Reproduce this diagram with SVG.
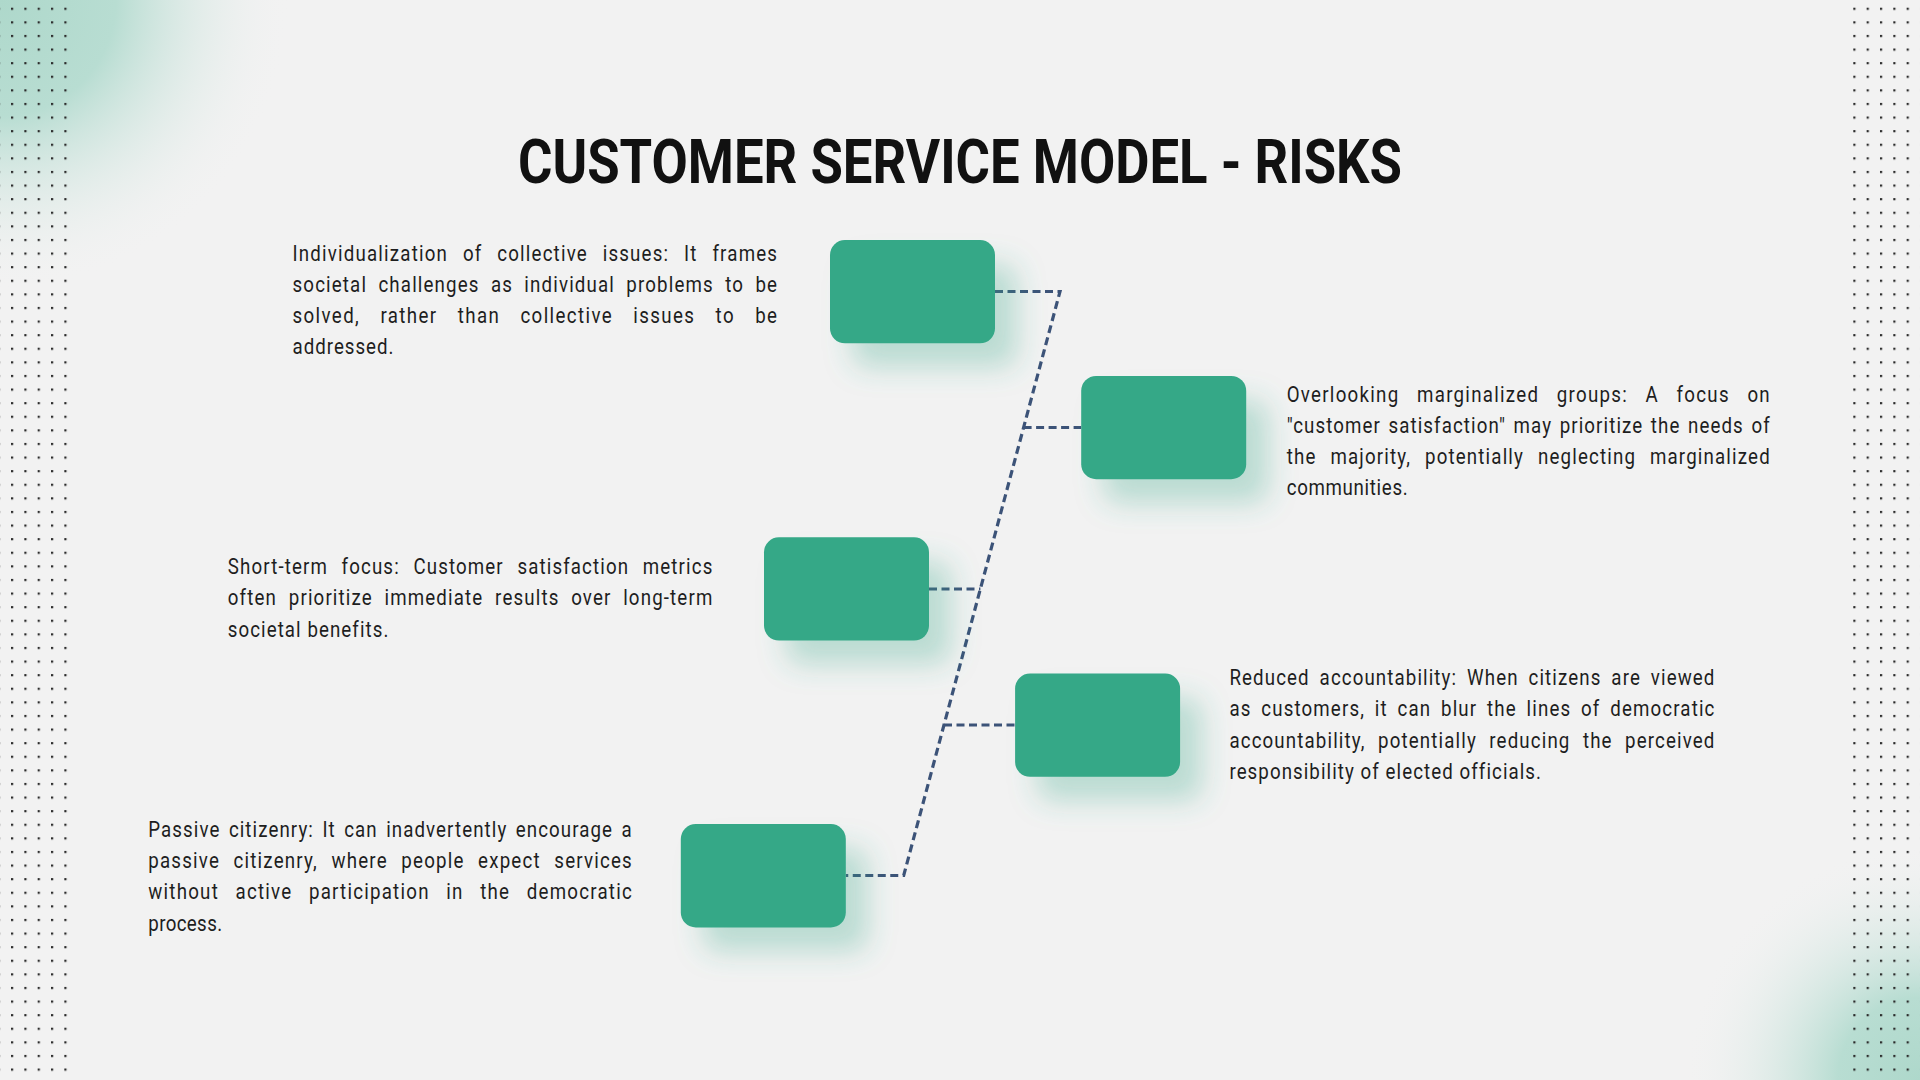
<svg xmlns="http://www.w3.org/2000/svg" width="1920" height="1080" viewBox="0 0 1920 1080">
<defs>
<style>
.body{font-family:Roboto,"Liberation Sans",sans-serif;font-size:22px;letter-spacing:1.2px;fill:#1e1e1e;}
.title{font-family:Roboto,"Liberation Sans",sans-serif;font-size:62px;font-weight:700;fill:#111111;}
.box{fill:#34a887;}
.conn{fill:none;stroke:#3c5378;stroke-width:3.2;stroke-dasharray:8 4.5;}
</style>
<radialGradient id="gTL" cx="0" cy="0" r="290" gradientUnits="userSpaceOnUse">
<stop offset="0" stop-color="#aed8cb"/>
<stop offset="0.4" stop-color="#b8ddd2"/>
<stop offset="1" stop-color="#f2f2f2" stop-opacity="0"/>
</radialGradient>
<radialGradient id="gBR" cx="1920" cy="1080" r="235" gradientUnits="userSpaceOnUse">
<stop offset="0" stop-color="#aed8cb"/>
<stop offset="0.35" stop-color="#b8ddd2"/>
<stop offset="1" stop-color="#f2f2f2" stop-opacity="0"/>
</radialGradient>
<pattern id="dotsL" x="11" y="7.7" width="13.333" height="13.6" patternUnits="userSpaceOnUse">
<rect x="0" y="0" width="2.2" height="2.2" fill="#2b2b2b"/>
</pattern>
<pattern id="dotsR" x="1853.3" y="7.7" width="13.333" height="13.6" patternUnits="userSpaceOnUse">
<rect x="0" y="0" width="2.2" height="2.2" fill="#2b2b2b"/>
</pattern>
<filter id="sh" x="-40%" y="-40%" width="200%" height="220%">
<feDropShadow dx="22" dy="24" stdDeviation="14" flood-color="#34a887" flood-opacity="0.3"/>
</filter>
</defs>

<rect x="0" y="0" width="1920" height="1080" fill="#f2f2f2"/>
<rect x="0" y="0" width="320" height="320" fill="url(#gTL)"/>
<rect x="1600" y="760" width="320" height="320" fill="url(#gBR)"/>
<rect x="0" y="0" width="72" height="1080" fill="url(#dotsL)"/>
<rect x="1850" y="0" width="70" height="1080" fill="url(#dotsR)"/>

<text class="title" x="518" y="182.5" textLength="884" lengthAdjust="spacingAndGlyphs">CUSTOMER SERVICE MODEL - RISKS</text>

<g id="connectors">
<path class="conn" d="M995 291.5 H1060 L903.7 875.5 H845.8"/>
<path class="conn" d="M1023.6 427.5 H1081.2"/>
<path class="conn" d="M929 589 H980.4"/>
<path class="conn" d="M944 725 H1015.1"/>
</g>

<g id="node1">
<rect class="box" x="830" y="240" width="165" height="103.3" rx="15" filter="url(#sh)"/>
<text class="body" transform="translate(292.5 260.5) scale(0.85 1)" word-spacing="10.5" textLength="571.2" lengthAdjust="spacing">Individualization of collective issues: It frames</text>
<text class="body" transform="translate(292.5 291.8) scale(0.85 1)" word-spacing="6.5" textLength="571.2" lengthAdjust="spacing">societal challenges as individual problems to be</text>
<text class="body" transform="translate(292.5 323.1) scale(0.85 1)" word-spacing="16.7" textLength="571.2" lengthAdjust="spacing">solved, rather than collective issues to be</text>
<text class="body" transform="translate(292.5 354.4) scale(0.85 1)" textLength="120" lengthAdjust="spacing">addressed.</text>
</g>

<g id="node2">
<rect class="box" x="1081.2" y="375.9" width="165" height="103.3" rx="15" filter="url(#sh)"/>
<text class="body" transform="translate(1286.7 401.5) scale(0.85 1)" word-spacing="13.7" textLength="569.4" lengthAdjust="spacing">Overlooking marginalized groups: A focus on</text>
<text class="body" transform="translate(1286.7 432.8) scale(0.85 1)" word-spacing="2.2" textLength="569.4" lengthAdjust="spacing">"customer satisfaction" may prioritize the needs of</text>
<text class="body" transform="translate(1286.7 464.1) scale(0.85 1)" word-spacing="9.5" textLength="569.4" lengthAdjust="spacing">the majority, potentially neglecting marginalized</text>
<text class="body" transform="translate(1286.7 495.4) scale(0.85 1)" textLength="143.5" lengthAdjust="spacing">communities.</text>
</g>

<g id="node3">
<rect class="box" x="764" y="537.3" width="165" height="103.3" rx="15" filter="url(#sh)"/>
<text class="body" transform="translate(227.8 574) scale(0.85 1)" word-spacing="9.2" textLength="571.2" lengthAdjust="spacing">Short-term focus: Customer satisfaction metrics</text>
<text class="body" transform="translate(227.8 605.3) scale(0.85 1)" word-spacing="7" textLength="571.2" lengthAdjust="spacing">often prioritize immediate results over long-term</text>
<text class="body" transform="translate(227.8 636.6) scale(0.85 1)" textLength="190.1" lengthAdjust="spacing">societal benefits.</text>
</g>

<g id="node4">
<rect class="box" x="1015.1" y="673.5" width="165" height="103.3" rx="15" filter="url(#sh)"/>
<text class="body" transform="translate(1229.4 685.1) scale(0.85 1)" word-spacing="4.9" textLength="571.8" lengthAdjust="spacing">Reduced accountability: When citizens are viewed</text>
<text class="body" transform="translate(1229.4 716.4) scale(0.85 1)" word-spacing="4.7" textLength="571.8" lengthAdjust="spacing">as customers, it can blur the lines of democratic</text>
<text class="body" transform="translate(1229.4 747.7) scale(0.85 1)" word-spacing="7.8" textLength="571.8" lengthAdjust="spacing">accountability, potentially reducing the perceived</text>
<text class="body" transform="translate(1229.4 779) scale(0.85 1)" textLength="367.8" lengthAdjust="spacing">responsibility of elected officials.</text>
</g>

<g id="node5">
<rect class="box" x="680.8" y="824.1" width="165" height="103.3" rx="15" filter="url(#sh)"/>
<text class="body" transform="translate(148.3 836.7) scale(0.85 1)" word-spacing="3.2" textLength="569.9" lengthAdjust="spacing">Passive citizenry: It can inadvertently encourage a</text>
<text class="body" transform="translate(148.3 868) scale(0.85 1)" word-spacing="9.1" textLength="569.9" lengthAdjust="spacing">passive citizenry, where people expect services</text>
<text class="body" transform="translate(148.3 899.3) scale(0.85 1)" word-spacing="12.6" textLength="569.9" lengthAdjust="spacing">without active participation in the democratic</text>
<text class="body" transform="translate(148.3 930.6) scale(0.85 1)" textLength="88" lengthAdjust="spacing">process.</text>
</g>
</svg>
